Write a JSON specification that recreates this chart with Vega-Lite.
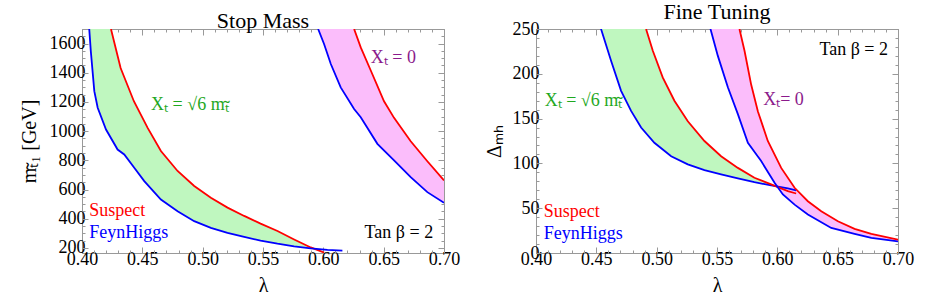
{
  "$schema": "https://vega.github.io/schema/vega-lite/v6.json",
  "background": "white",
  "padding": {"left": 18, "top": 0, "right": 5, "bottom": 0},
  "spacing": 22,
  "config": {
    "view": {"stroke": "#999", "strokeWidth": 1},
    "axis": {"grid": false, "domain": false, "tickColor": "#999", "labelFont": "Liberation Serif", "titleFont": "Liberation Serif", "labelFontSize": 18, "titleFontSize": 20, "labelColor": "#000", "titleColor": "#000", "titleFontWeight": "normal", "labelFlush": false, "labelOverlap": false},
    "title": {"font": "Liberation Serif", "fontSize": 22, "fontWeight": "normal", "color": "#000", "offset": -4},
    "text": {"font": "Liberation Serif", "fontSize": 18}
  },
  "datasets": {
    "bands": [
      {"panel": "L", "band": "sqrt6", "lambda": 0.406, "lo": 1700, "hi": 1700},
      {"panel": "L", "band": "sqrt6", "lambda": 0.4073, "lo": 1548, "hi": 1700},
      {"panel": "L", "band": "sqrt6", "lambda": 0.4102, "lo": 1274, "hi": 1700},
      {"panel": "L", "band": "sqrt6", "lambda": 0.413, "lo": 1160, "hi": 1700},
      {"panel": "L", "band": "sqrt6", "lambda": 0.4199, "lo": 1011, "hi": 1700},
      {"panel": "L", "band": "sqrt6", "lambda": 0.424, "lo": 950, "hi": 1700},
      {"panel": "L", "band": "sqrt6", "lambda": 0.4295, "lo": 874, "hi": 1516},
      {"panel": "L", "band": "sqrt6", "lambda": 0.435, "lo": 840, "hi": 1370},
      {"panel": "L", "band": "sqrt6", "lambda": 0.4433, "lo": 749, "hi": 1200},
      {"panel": "L", "band": "sqrt6", "lambda": 0.4516, "lo": 658, "hi": 1065},
      {"panel": "L", "band": "sqrt6", "lambda": 0.4654, "lo": 531, "hi": 864},
      {"panel": "L", "band": "sqrt6", "lambda": 0.4792, "lo": 451, "hi": 727},
      {"panel": "L", "band": "sqrt6", "lambda": 0.493, "lo": 383, "hi": 624},
      {"panel": "L", "band": "sqrt6", "lambda": 0.5068, "lo": 337, "hi": 544},
      {"panel": "L", "band": "sqrt6", "lambda": 0.5206, "lo": 303, "hi": 476},
      {"panel": "L", "band": "sqrt6", "lambda": 0.5344, "lo": 275, "hi": 419},
      {"panel": "L", "band": "sqrt6", "lambda": 0.548, "lo": 250, "hi": 366},
      {"panel": "L", "band": "sqrt6", "lambda": 0.562, "lo": 229, "hi": 316},
      {"panel": "L", "band": "sqrt6", "lambda": 0.5758, "lo": 211, "hi": 258},
      {"panel": "L", "band": "sqrt6", "lambda": 0.5915, "lo": 195, "hi": 195},
      {"panel": "L", "band": "zero", "lambda": 0.5957, "lo": 1700, "hi": 1700},
      {"panel": "L", "band": "zero", "lambda": 0.6006, "lo": 1597, "hi": 1700},
      {"panel": "L", "band": "zero", "lambda": 0.6062, "lo": 1460, "hi": 1700},
      {"panel": "L", "band": "zero", "lambda": 0.6144, "lo": 1300, "hi": 1700},
      {"panel": "L", "band": "zero", "lambda": 0.6255, "lo": 1152, "hi": 1700},
      {"panel": "L", "band": "zero", "lambda": 0.631, "lo": 1095, "hi": 1574},
      {"panel": "L", "band": "zero", "lambda": 0.6394, "lo": 990, "hi": 1414},
      {"panel": "L", "band": "zero", "lambda": 0.6448, "lo": 913, "hi": 1325},
      {"panel": "L", "band": "zero", "lambda": 0.6503, "lo": 860, "hi": 1205},
      {"panel": "L", "band": "zero", "lambda": 0.6586, "lo": 799, "hi": 1091},
      {"panel": "L", "band": "zero", "lambda": 0.6724, "lo": 685, "hi": 931},
      {"panel": "L", "band": "zero", "lambda": 0.6862, "lo": 582, "hi": 794},
      {"panel": "L", "band": "zero", "lambda": 0.7, "lo": 509, "hi": 662},
      {"panel": "R", "band": "sqrt6", "lambda": 0.4539, "lo": 250, "hi": 250},
      {"panel": "R", "band": "sqrt6", "lambda": 0.4622, "lo": 214.5, "hi": 250},
      {"panel": "R", "band": "sqrt6", "lambda": 0.4705, "lo": 181, "hi": 250},
      {"panel": "R", "band": "sqrt6", "lambda": 0.4788, "lo": 158.6, "hi": 250},
      {"panel": "R", "band": "sqrt6", "lambda": 0.4871, "lo": 140, "hi": 250},
      {"panel": "R", "band": "sqrt6", "lambda": 0.4912, "lo": 133.5, "hi": 250},
      {"panel": "R", "band": "sqrt6", "lambda": 0.4968, "lo": 125, "hi": 225.7},
      {"panel": "R", "band": "sqrt6", "lambda": 0.505, "lo": 115, "hi": 196},
      {"panel": "R", "band": "sqrt6", "lambda": 0.5147, "lo": 106, "hi": 170},
      {"panel": "R", "band": "sqrt6", "lambda": 0.5258, "lo": 99, "hi": 147},
      {"panel": "R", "band": "sqrt6", "lambda": 0.5396, "lo": 92.5, "hi": 125},
      {"panel": "R", "band": "sqrt6", "lambda": 0.5534, "lo": 87.7, "hi": 108},
      {"panel": "R", "band": "sqrt6", "lambda": 0.5673, "lo": 83.2, "hi": 95},
      {"panel": "R", "band": "sqrt6", "lambda": 0.581, "lo": 79, "hi": 84},
      {"panel": "R", "band": "sqrt6", "lambda": 0.5949, "lo": 75.4, "hi": 76.5},
      {"panel": "R", "band": "sqrt6", "lambda": 0.599, "lo": 74, "hi": 74},
      {"panel": "R", "band": "zero", "lambda": 0.5446, "lo": 250, "hi": 250},
      {"panel": "R", "band": "zero", "lambda": 0.5507, "lo": 220, "hi": 250},
      {"panel": "R", "band": "zero", "lambda": 0.559, "lo": 185, "hi": 250},
      {"panel": "R", "band": "zero", "lambda": 0.5673, "lo": 155, "hi": 250},
      {"panel": "R", "band": "zero", "lambda": 0.5686, "lo": 150, "hi": 250},
      {"panel": "R", "band": "zero", "lambda": 0.5728, "lo": 136, "hi": 225.7},
      {"panel": "R", "band": "zero", "lambda": 0.5756, "lo": 123, "hi": 209},
      {"panel": "R", "band": "zero", "lambda": 0.5783, "lo": 119, "hi": 188},
      {"panel": "R", "band": "zero", "lambda": 0.5839, "lo": 110, "hi": 158},
      {"panel": "R", "band": "zero", "lambda": 0.5866, "lo": 102.6, "hi": 150},
      {"panel": "R", "band": "zero", "lambda": 0.5921, "lo": 92, "hi": 125},
      {"panel": "R", "band": "zero", "lambda": 0.5977, "lo": 78.4, "hi": 109},
      {"panel": "R", "band": "zero", "lambda": 0.6032, "lo": 68, "hi": 95},
      {"panel": "R", "band": "zero", "lambda": 0.6046, "lo": 65.3, "hi": 92},
      {"panel": "R", "band": "zero", "lambda": 0.6143, "lo": 54, "hi": 72.8},
      {"panel": "R", "band": "zero", "lambda": 0.6253, "lo": 43, "hi": 57.8},
      {"panel": "R", "band": "zero", "lambda": 0.6364, "lo": 35, "hi": 46.6},
      {"panel": "R", "band": "zero", "lambda": 0.6447, "lo": 28, "hi": 39.5},
      {"panel": "R", "band": "zero", "lambda": 0.6502, "lo": 26.5, "hi": 35.4},
      {"panel": "R", "band": "zero", "lambda": 0.664, "lo": 21.3, "hi": 26.9},
      {"panel": "R", "band": "zero", "lambda": 0.6779, "lo": 16.8, "hi": 21.3},
      {"panel": "R", "band": "zero", "lambda": 0.7, "lo": 13, "hi": 14.9}
    ],
    "curves": [
      {"panel": "L", "band": "sqrt6", "code": "Suspect", "lambda": 0.424, "value": 1700},
      {"panel": "L", "band": "sqrt6", "code": "Suspect", "lambda": 0.432, "value": 1433},
      {"panel": "L", "band": "sqrt6", "code": "Suspect", "lambda": 0.443, "value": 1205},
      {"panel": "L", "band": "sqrt6", "code": "Suspect", "lambda": 0.4544, "value": 1022},
      {"panel": "L", "band": "sqrt6", "code": "Suspect", "lambda": 0.4654, "value": 864},
      {"panel": "L", "band": "sqrt6", "code": "Suspect", "lambda": 0.4792, "value": 727},
      {"panel": "L", "band": "sqrt6", "code": "Suspect", "lambda": 0.493, "value": 624},
      {"panel": "L", "band": "sqrt6", "code": "Suspect", "lambda": 0.5068, "value": 544},
      {"panel": "L", "band": "sqrt6", "code": "Suspect", "lambda": 0.5206, "value": 476},
      {"panel": "L", "band": "sqrt6", "code": "Suspect", "lambda": 0.5344, "value": 419},
      {"panel": "L", "band": "sqrt6", "code": "Suspect", "lambda": 0.548, "value": 366},
      {"panel": "L", "band": "sqrt6", "code": "Suspect", "lambda": 0.562, "value": 316},
      {"panel": "L", "band": "sqrt6", "code": "Suspect", "lambda": 0.5758, "value": 258},
      {"panel": "L", "band": "sqrt6", "code": "Suspect", "lambda": 0.5896, "value": 203},
      {"panel": "L", "band": "sqrt6", "code": "Suspect", "lambda": 0.6006, "value": 168},
      {"panel": "L", "band": "sqrt6", "code": "FeynHiggs", "lambda": 0.406, "value": 1700},
      {"panel": "L", "band": "sqrt6", "code": "FeynHiggs", "lambda": 0.4073, "value": 1548},
      {"panel": "L", "band": "sqrt6", "code": "FeynHiggs", "lambda": 0.4102, "value": 1274},
      {"panel": "L", "band": "sqrt6", "code": "FeynHiggs", "lambda": 0.413, "value": 1160},
      {"panel": "L", "band": "sqrt6", "code": "FeynHiggs", "lambda": 0.4199, "value": 1011},
      {"panel": "L", "band": "sqrt6", "code": "FeynHiggs", "lambda": 0.4295, "value": 874},
      {"panel": "L", "band": "sqrt6", "code": "FeynHiggs", "lambda": 0.435, "value": 840},
      {"panel": "L", "band": "sqrt6", "code": "FeynHiggs", "lambda": 0.4433, "value": 749},
      {"panel": "L", "band": "sqrt6", "code": "FeynHiggs", "lambda": 0.4516, "value": 658},
      {"panel": "L", "band": "sqrt6", "code": "FeynHiggs", "lambda": 0.4654, "value": 531},
      {"panel": "L", "band": "sqrt6", "code": "FeynHiggs", "lambda": 0.4792, "value": 451},
      {"panel": "L", "band": "sqrt6", "code": "FeynHiggs", "lambda": 0.493, "value": 383},
      {"panel": "L", "band": "sqrt6", "code": "FeynHiggs", "lambda": 0.5068, "value": 337},
      {"panel": "L", "band": "sqrt6", "code": "FeynHiggs", "lambda": 0.5206, "value": 303},
      {"panel": "L", "band": "sqrt6", "code": "FeynHiggs", "lambda": 0.5344, "value": 275},
      {"panel": "L", "band": "sqrt6", "code": "FeynHiggs", "lambda": 0.548, "value": 250},
      {"panel": "L", "band": "sqrt6", "code": "FeynHiggs", "lambda": 0.562, "value": 229},
      {"panel": "L", "band": "sqrt6", "code": "FeynHiggs", "lambda": 0.5758, "value": 211},
      {"panel": "L", "band": "sqrt6", "code": "FeynHiggs", "lambda": 0.5896, "value": 196},
      {"panel": "L", "band": "sqrt6", "code": "FeynHiggs", "lambda": 0.6034, "value": 186},
      {"panel": "L", "band": "sqrt6", "code": "FeynHiggs", "lambda": 0.6158, "value": 181},
      {"panel": "L", "band": "zero", "code": "Suspect", "lambda": 0.6255, "value": 1700},
      {"panel": "L", "band": "zero", "code": "Suspect", "lambda": 0.631, "value": 1574},
      {"panel": "L", "band": "zero", "code": "Suspect", "lambda": 0.6394, "value": 1414},
      {"panel": "L", "band": "zero", "code": "Suspect", "lambda": 0.6503, "value": 1205},
      {"panel": "L", "band": "zero", "code": "Suspect", "lambda": 0.6586, "value": 1091},
      {"panel": "L", "band": "zero", "code": "Suspect", "lambda": 0.6724, "value": 931},
      {"panel": "L", "band": "zero", "code": "Suspect", "lambda": 0.6862, "value": 794},
      {"panel": "L", "band": "zero", "code": "Suspect", "lambda": 0.7, "value": 662},
      {"panel": "L", "band": "zero", "code": "FeynHiggs", "lambda": 0.5957, "value": 1700},
      {"panel": "L", "band": "zero", "code": "FeynHiggs", "lambda": 0.6006, "value": 1597},
      {"panel": "L", "band": "zero", "code": "FeynHiggs", "lambda": 0.6062, "value": 1460},
      {"panel": "L", "band": "zero", "code": "FeynHiggs", "lambda": 0.6144, "value": 1300},
      {"panel": "L", "band": "zero", "code": "FeynHiggs", "lambda": 0.6255, "value": 1152},
      {"panel": "L", "band": "zero", "code": "FeynHiggs", "lambda": 0.631, "value": 1095},
      {"panel": "L", "band": "zero", "code": "FeynHiggs", "lambda": 0.6448, "value": 913},
      {"panel": "L", "band": "zero", "code": "FeynHiggs", "lambda": 0.6586, "value": 799},
      {"panel": "L", "band": "zero", "code": "FeynHiggs", "lambda": 0.6724, "value": 685},
      {"panel": "L", "band": "zero", "code": "FeynHiggs", "lambda": 0.6862, "value": 582},
      {"panel": "L", "band": "zero", "code": "FeynHiggs", "lambda": 0.7, "value": 509},
      {"panel": "R", "band": "sqrt6", "code": "FeynHiggs", "lambda": 0.4539, "value": 250},
      {"panel": "R", "band": "sqrt6", "code": "FeynHiggs", "lambda": 0.4622, "value": 214.5},
      {"panel": "R", "band": "sqrt6", "code": "FeynHiggs", "lambda": 0.4705, "value": 181},
      {"panel": "R", "band": "sqrt6", "code": "FeynHiggs", "lambda": 0.4788, "value": 158.6},
      {"panel": "R", "band": "sqrt6", "code": "FeynHiggs", "lambda": 0.4871, "value": 140},
      {"panel": "R", "band": "sqrt6", "code": "FeynHiggs", "lambda": 0.4981, "value": 123},
      {"panel": "R", "band": "sqrt6", "code": "FeynHiggs", "lambda": 0.512, "value": 108},
      {"panel": "R", "band": "sqrt6", "code": "FeynHiggs", "lambda": 0.5258, "value": 99},
      {"panel": "R", "band": "sqrt6", "code": "FeynHiggs", "lambda": 0.5396, "value": 92.5},
      {"panel": "R", "band": "sqrt6", "code": "FeynHiggs", "lambda": 0.5534, "value": 87.7},
      {"panel": "R", "band": "sqrt6", "code": "FeynHiggs", "lambda": 0.5673, "value": 83.2},
      {"panel": "R", "band": "sqrt6", "code": "FeynHiggs", "lambda": 0.581, "value": 79},
      {"panel": "R", "band": "sqrt6", "code": "FeynHiggs", "lambda": 0.5949, "value": 75.4},
      {"panel": "R", "band": "sqrt6", "code": "FeynHiggs", "lambda": 0.6087, "value": 72},
      {"panel": "R", "band": "sqrt6", "code": "FeynHiggs", "lambda": 0.6156, "value": 70},
      {"panel": "R", "band": "sqrt6", "code": "Suspect", "lambda": 0.4912, "value": 250},
      {"panel": "R", "band": "sqrt6", "code": "Suspect", "lambda": 0.4968, "value": 225.7},
      {"panel": "R", "band": "sqrt6", "code": "Suspect", "lambda": 0.505, "value": 196},
      {"panel": "R", "band": "sqrt6", "code": "Suspect", "lambda": 0.5147, "value": 170},
      {"panel": "R", "band": "sqrt6", "code": "Suspect", "lambda": 0.5258, "value": 147},
      {"panel": "R", "band": "sqrt6", "code": "Suspect", "lambda": 0.5396, "value": 125},
      {"panel": "R", "band": "sqrt6", "code": "Suspect", "lambda": 0.5534, "value": 108},
      {"panel": "R", "band": "sqrt6", "code": "Suspect", "lambda": 0.5673, "value": 95},
      {"panel": "R", "band": "sqrt6", "code": "Suspect", "lambda": 0.581, "value": 84},
      {"panel": "R", "band": "sqrt6", "code": "Suspect", "lambda": 0.5949, "value": 76.5},
      {"panel": "R", "band": "sqrt6", "code": "Suspect", "lambda": 0.6087, "value": 69},
      {"panel": "R", "band": "sqrt6", "code": "Suspect", "lambda": 0.6156, "value": 66.4},
      {"panel": "R", "band": "zero", "code": "FeynHiggs", "lambda": 0.5446, "value": 250},
      {"panel": "R", "band": "zero", "code": "FeynHiggs", "lambda": 0.5507, "value": 220},
      {"panel": "R", "band": "zero", "code": "FeynHiggs", "lambda": 0.559, "value": 185},
      {"panel": "R", "band": "zero", "code": "FeynHiggs", "lambda": 0.5673, "value": 155},
      {"panel": "R", "band": "zero", "code": "FeynHiggs", "lambda": 0.5756, "value": 123},
      {"panel": "R", "band": "zero", "code": "FeynHiggs", "lambda": 0.5866, "value": 102.6},
      {"panel": "R", "band": "zero", "code": "FeynHiggs", "lambda": 0.5977, "value": 78.4},
      {"panel": "R", "band": "zero", "code": "FeynHiggs", "lambda": 0.6046, "value": 65.3},
      {"panel": "R", "band": "zero", "code": "FeynHiggs", "lambda": 0.6143, "value": 54},
      {"panel": "R", "band": "zero", "code": "FeynHiggs", "lambda": 0.6253, "value": 43},
      {"panel": "R", "band": "zero", "code": "FeynHiggs", "lambda": 0.6447, "value": 28},
      {"panel": "R", "band": "zero", "code": "FeynHiggs", "lambda": 0.664, "value": 21.3},
      {"panel": "R", "band": "zero", "code": "FeynHiggs", "lambda": 0.6779, "value": 16.8},
      {"panel": "R", "band": "zero", "code": "FeynHiggs", "lambda": 0.7, "value": 13},
      {"panel": "R", "band": "zero", "code": "Suspect", "lambda": 0.5686, "value": 250},
      {"panel": "R", "band": "zero", "code": "Suspect", "lambda": 0.5728, "value": 225.7},
      {"panel": "R", "band": "zero", "code": "Suspect", "lambda": 0.5783, "value": 188},
      {"panel": "R", "band": "zero", "code": "Suspect", "lambda": 0.5839, "value": 158},
      {"panel": "R", "band": "zero", "code": "Suspect", "lambda": 0.5921, "value": 125},
      {"panel": "R", "band": "zero", "code": "Suspect", "lambda": 0.6032, "value": 95},
      {"panel": "R", "band": "zero", "code": "Suspect", "lambda": 0.6143, "value": 72.8},
      {"panel": "R", "band": "zero", "code": "Suspect", "lambda": 0.6253, "value": 57.8},
      {"panel": "R", "band": "zero", "code": "Suspect", "lambda": 0.6364, "value": 46.6},
      {"panel": "R", "band": "zero", "code": "Suspect", "lambda": 0.6502, "value": 35.4},
      {"panel": "R", "band": "zero", "code": "Suspect", "lambda": 0.664, "value": 26.9},
      {"panel": "R", "band": "zero", "code": "Suspect", "lambda": 0.6779, "value": 21.3},
      {"panel": "R", "band": "zero", "code": "Suspect", "lambda": 0.7, "value": 14.9}
    ],
    "labels": [
      {"panel": "L", "kind": "sqrt6", "lambda": 0.4894, "value": 1182, "text": "Xₜ = √6 mₜ̃"},
      {"panel": "L", "kind": "zero", "lambda": 0.658, "value": 1502, "text": "Xₜ = 0"},
      {"panel": "L", "kind": "Suspect", "lambda": 0.406, "value": 451, "text": "Suspect"},
      {"panel": "L", "kind": "FeynHiggs", "lambda": 0.406, "value": 303, "text": "FeynHiggs"},
      {"panel": "L", "kind": "tanb", "lambda": 0.691, "value": 303, "text": "Tan β = 2"},
      {"panel": "R", "kind": "sqrt6", "lambda": 0.4393, "value": 169.8, "text": "Xₜ = √6 mₜ̃"},
      {"panel": "R", "kind": "zero", "lambda": 0.6051, "value": 170.5, "text": "Xₜ= 0"},
      {"panel": "R", "kind": "Suspect", "lambda": 0.4064, "value": 46, "text": "Suspect"},
      {"panel": "R", "kind": "FeynHiggs", "lambda": 0.4064, "value": 21.3, "text": "FeynHiggs"},
      {"panel": "R", "kind": "tanb", "lambda": 0.6917, "value": 226.5, "text": "Tan β = 2"}
    ]
  },
  "hconcat": [
    {
      "width": 362, "height": 224,
      "title": "Stop Mass",
      "resolve": {"axis": {"x": "independent", "y": "independent"}},
      "layer": [
        {
          "data": {"name": "bands"},
          "transform": [{"filter": "datum.panel === 'L'"}],
          "mark": {"type": "area", "clip": true, "opacity": 1},
          "encoding": {
            "x": {"field": "lambda", "type": "quantitative", "scale": {"domain": [0.4, 0.7], "zero": false, "nice": false},
                  "axis": {"orient": "bottom", "values": [0.4, 0.45, 0.5, 0.55, 0.6, 0.65, 0.7], "format": ".2f", "tickSize": -6, "labelPadding": 3, "title": "λ", "titlePadding": 7}},
            "y": {"field": "lo", "type": "quantitative", "scale": {"domain": [165, 1700], "zero": false, "nice": false},
                  "axis": {"orient": "left", "values": [200, 400, 600, 800, 1000, 1200, 1400, 1600], "format": "d", "tickSize": -6, "labelPadding": 3, "title": "mₜ̃₁  [GeV]", "titlePadding": 10}},
            "y2": {"field": "hi"},
            "fill": {"field": "band", "type": "nominal", "scale": {"domain": ["sqrt6", "zero"], "range": ["#bff7bf", "#fbbdfb"]}, "legend": null},
            "detail": {"field": "band"}
          }
        },
        {
          "data": {"name": "curves"},
          "transform": [{"filter": "datum.panel === 'L'"}],
          "mark": {"type": "line", "clip": true, "strokeWidth": 1.8},
          "encoding": {
            "x": {"field": "lambda", "type": "quantitative", "scale": {"domain": [0.4, 0.7], "zero": false, "nice": false},
                  "axis": {"orient": "top", "values": [0.4, 0.45, 0.5, 0.55, 0.6, 0.65, 0.7], "labels": false, "tickSize": -6, "title": null}},
            "y": {"field": "value", "type": "quantitative", "scale": {"domain": [165, 1700], "zero": false, "nice": false},
                  "axis": {"orient": "right", "values": [200, 400, 600, 800, 1000, 1200, 1400, 1600], "labels": false, "tickSize": -6, "title": null}},
            "stroke": {"field": "code", "type": "nominal", "scale": {"domain": ["Suspect", "FeynHiggs"], "range": ["#ff0000", "#0000ff"]}, "legend": null},
            "detail": {"field": "band"},
            "order": {"field": "lambda"}
          }
        },
        {
          "data": {"name": "labels"},
          "transform": [{"filter": "datum.panel === 'L' && (datum.kind === 'sqrt6' || datum.kind === 'zero')"}],
          "mark": {"type": "text", "align": "center", "baseline": "middle"},
          "encoding": {
            "x": {"field": "lambda", "type": "quantitative", "scale": {"domain": [0.4, 0.7], "zero": false, "nice": false},
                  "axis": {"orient": "bottom", "values": [0.4, 0.41, 0.42, 0.43, 0.44, 0.45, 0.46, 0.47, 0.48, 0.49, 0.5, 0.51, 0.52, 0.53, 0.54, 0.55, 0.56, 0.57, 0.58, 0.59, 0.6, 0.61, 0.62, 0.63, 0.64, 0.65, 0.66, 0.67, 0.68, 0.69, 0.7], "labels": false, "tickSize": -3, "title": null}},
            "y": {"field": "value", "type": "quantitative", "scale": {"domain": [165, 1700], "zero": false, "nice": false},
                  "axis": {"orient": "left", "values": [200, 250, 300, 350, 400, 450, 500, 550, 600, 650, 700, 750, 800, 850, 900, 950, 1000, 1050, 1100, 1150, 1200, 1250, 1300, 1350, 1400, 1450, 1500, 1550, 1600, 1650, 1700], "labels": false, "tickSize": -3, "title": null}},
            "text": {"field": "text"},
            "color": {"field": "kind", "type": "nominal", "scale": {"domain": ["sqrt6", "zero", "Suspect", "FeynHiggs", "tanb"], "range": ["#1fa81f", "#8b1a8b", "#ff0000", "#0000ff", "#000000"]}, "legend": null}
          }
        },
        {
          "data": {"name": "labels"},
          "transform": [{"filter": "datum.panel === 'L' && (datum.kind === 'Suspect' || datum.kind === 'FeynHiggs')"}],
          "mark": {"type": "text", "align": "left", "baseline": "middle"},
          "encoding": {
            "x": {"field": "lambda", "type": "quantitative", "scale": {"domain": [0.4, 0.7], "zero": false, "nice": false},
                  "axis": {"orient": "top", "values": [0.4, 0.41, 0.42, 0.43, 0.44, 0.45, 0.46, 0.47, 0.48, 0.49, 0.5, 0.51, 0.52, 0.53, 0.54, 0.55, 0.56, 0.57, 0.58, 0.59, 0.6, 0.61, 0.62, 0.63, 0.64, 0.65, 0.66, 0.67, 0.68, 0.69, 0.7], "labels": false, "tickSize": -3, "title": null}},
            "y": {"field": "value", "type": "quantitative", "scale": {"domain": [165, 1700], "zero": false, "nice": false},
                  "axis": {"orient": "right", "values": [200, 250, 300, 350, 400, 450, 500, 550, 600, 650, 700, 750, 800, 850, 900, 950, 1000, 1050, 1100, 1150, 1200, 1250, 1300, 1350, 1400, 1450, 1500, 1550, 1600, 1650, 1700], "labels": false, "tickSize": -3, "title": null}},
            "text": {"field": "text"},
            "color": {"field": "kind", "type": "nominal", "scale": {"domain": ["sqrt6", "zero", "Suspect", "FeynHiggs", "tanb"], "range": ["#1fa81f", "#8b1a8b", "#ff0000", "#0000ff", "#000000"]}, "legend": null}
          }
        },
        {
          "data": {"name": "labels"},
          "transform": [{"filter": "datum.panel === 'L' && datum.kind === 'tanb'"}],
          "mark": {"type": "text", "align": "right", "baseline": "middle"},
          "encoding": {
            "x": {"field": "lambda", "type": "quantitative", "scale": {"domain": [0.4, 0.7], "zero": false, "nice": false}, "axis": null},
            "y": {"field": "value", "type": "quantitative", "scale": {"domain": [165, 1700], "zero": false, "nice": false}, "axis": null},
            "text": {"field": "text"},
            "color": {"field": "kind", "type": "nominal", "scale": {"domain": ["sqrt6", "zero", "Suspect", "FeynHiggs", "tanb"], "range": ["#1fa81f", "#8b1a8b", "#ff0000", "#0000ff", "#000000"]}, "legend": null}
          }
        }
      ]
    },
    {
      "width": 362, "height": 224,
      "title": "Fine Tuning",
      "resolve": {"axis": {"x": "independent", "y": "independent"}},
      "layer": [
        {
          "data": {"name": "bands"},
          "transform": [{"filter": "datum.panel === 'R'"}],
          "mark": {"type": "area", "clip": true, "opacity": 1},
          "encoding": {
            "x": {"field": "lambda", "type": "quantitative", "scale": {"domain": [0.4, 0.7], "zero": false, "nice": false},
                  "axis": {"orient": "bottom", "values": [0.4, 0.45, 0.5, 0.55, 0.6, 0.65, 0.7], "format": ".2f", "tickSize": -6, "labelPadding": 3, "title": "λ", "titlePadding": 7}},
            "y": {"field": "lo", "type": "quantitative", "scale": {"domain": [0, 250], "zero": false, "nice": false},
                  "axis": {"orient": "left", "values": [0, 50, 100, 150, 200, 250], "format": "d", "tickSize": -6, "labelPadding": 3, "title": "Δₘₕ", "titlePadding": 8}},
            "y2": {"field": "hi"},
            "fill": {"field": "band", "type": "nominal", "scale": {"domain": ["sqrt6", "zero"], "range": ["#bff7bf", "#fbbdfb"]}, "legend": null},
            "detail": {"field": "band"}
          }
        },
        {
          "data": {"name": "curves"},
          "transform": [{"filter": "datum.panel === 'R'"}],
          "mark": {"type": "line", "clip": true, "strokeWidth": 1.8},
          "encoding": {
            "x": {"field": "lambda", "type": "quantitative", "scale": {"domain": [0.4, 0.7], "zero": false, "nice": false},
                  "axis": {"orient": "top", "values": [0.4, 0.45, 0.5, 0.55, 0.6, 0.65, 0.7], "labels": false, "tickSize": -6, "title": null}},
            "y": {"field": "value", "type": "quantitative", "scale": {"domain": [0, 250], "zero": false, "nice": false},
                  "axis": {"orient": "right", "values": [0, 50, 100, 150, 200, 250], "labels": false, "tickSize": -6, "title": null}},
            "stroke": {"field": "code", "type": "nominal", "scale": {"domain": ["Suspect", "FeynHiggs"], "range": ["#ff0000", "#0000ff"]}, "legend": null},
            "detail": {"field": "band"},
            "order": {"field": "lambda"}
          }
        },
        {
          "data": {"name": "labels"},
          "transform": [{"filter": "datum.panel === 'R' && (datum.kind === 'sqrt6' || datum.kind === 'zero')"}],
          "mark": {"type": "text", "align": "center", "baseline": "middle"},
          "encoding": {
            "x": {"field": "lambda", "type": "quantitative", "scale": {"domain": [0.4, 0.7], "zero": false, "nice": false},
                  "axis": {"orient": "bottom", "values": [0.4, 0.41, 0.42, 0.43, 0.44, 0.45, 0.46, 0.47, 0.48, 0.49, 0.5, 0.51, 0.52, 0.53, 0.54, 0.55, 0.56, 0.57, 0.58, 0.59, 0.6, 0.61, 0.62, 0.63, 0.64, 0.65, 0.66, 0.67, 0.68, 0.69, 0.7], "labels": false, "tickSize": -3, "title": null}},
            "y": {"field": "value", "type": "quantitative", "scale": {"domain": [0, 250], "zero": false, "nice": false},
                  "axis": {"orient": "left", "values": [0, 10, 20, 30, 40, 50, 60, 70, 80, 90, 100, 110, 120, 130, 140, 150, 160, 170, 180, 190, 200, 210, 220, 230, 240, 250], "labels": false, "tickSize": -3, "title": null}},
            "text": {"field": "text"},
            "color": {"field": "kind", "type": "nominal", "scale": {"domain": ["sqrt6", "zero", "Suspect", "FeynHiggs", "tanb"], "range": ["#1fa81f", "#8b1a8b", "#ff0000", "#0000ff", "#000000"]}, "legend": null}
          }
        },
        {
          "data": {"name": "labels"},
          "transform": [{"filter": "datum.panel === 'R' && (datum.kind === 'Suspect' || datum.kind === 'FeynHiggs')"}],
          "mark": {"type": "text", "align": "left", "baseline": "middle"},
          "encoding": {
            "x": {"field": "lambda", "type": "quantitative", "scale": {"domain": [0.4, 0.7], "zero": false, "nice": false},
                  "axis": {"orient": "top", "values": [0.4, 0.41, 0.42, 0.43, 0.44, 0.45, 0.46, 0.47, 0.48, 0.49, 0.5, 0.51, 0.52, 0.53, 0.54, 0.55, 0.56, 0.57, 0.58, 0.59, 0.6, 0.61, 0.62, 0.63, 0.64, 0.65, 0.66, 0.67, 0.68, 0.69, 0.7], "labels": false, "tickSize": -3, "title": null}},
            "y": {"field": "value", "type": "quantitative", "scale": {"domain": [0, 250], "zero": false, "nice": false},
                  "axis": {"orient": "right", "values": [0, 10, 20, 30, 40, 50, 60, 70, 80, 90, 100, 110, 120, 130, 140, 150, 160, 170, 180, 190, 200, 210, 220, 230, 240, 250], "labels": false, "tickSize": -3, "title": null}},
            "text": {"field": "text"},
            "color": {"field": "kind", "type": "nominal", "scale": {"domain": ["sqrt6", "zero", "Suspect", "FeynHiggs", "tanb"], "range": ["#1fa81f", "#8b1a8b", "#ff0000", "#0000ff", "#000000"]}, "legend": null}
          }
        },
        {
          "data": {"name": "labels"},
          "transform": [{"filter": "datum.panel === 'R' && datum.kind === 'tanb'"}],
          "mark": {"type": "text", "align": "right", "baseline": "middle"},
          "encoding": {
            "x": {"field": "lambda", "type": "quantitative", "scale": {"domain": [0.4, 0.7], "zero": false, "nice": false}, "axis": null},
            "y": {"field": "value", "type": "quantitative", "scale": {"domain": [0, 250], "zero": false, "nice": false}, "axis": null},
            "text": {"field": "text"},
            "color": {"field": "kind", "type": "nominal", "scale": {"domain": ["sqrt6", "zero", "Suspect", "FeynHiggs", "tanb"], "range": ["#1fa81f", "#8b1a8b", "#ff0000", "#0000ff", "#000000"]}, "legend": null}
          }
        }
      ]
    }
  ]
}
